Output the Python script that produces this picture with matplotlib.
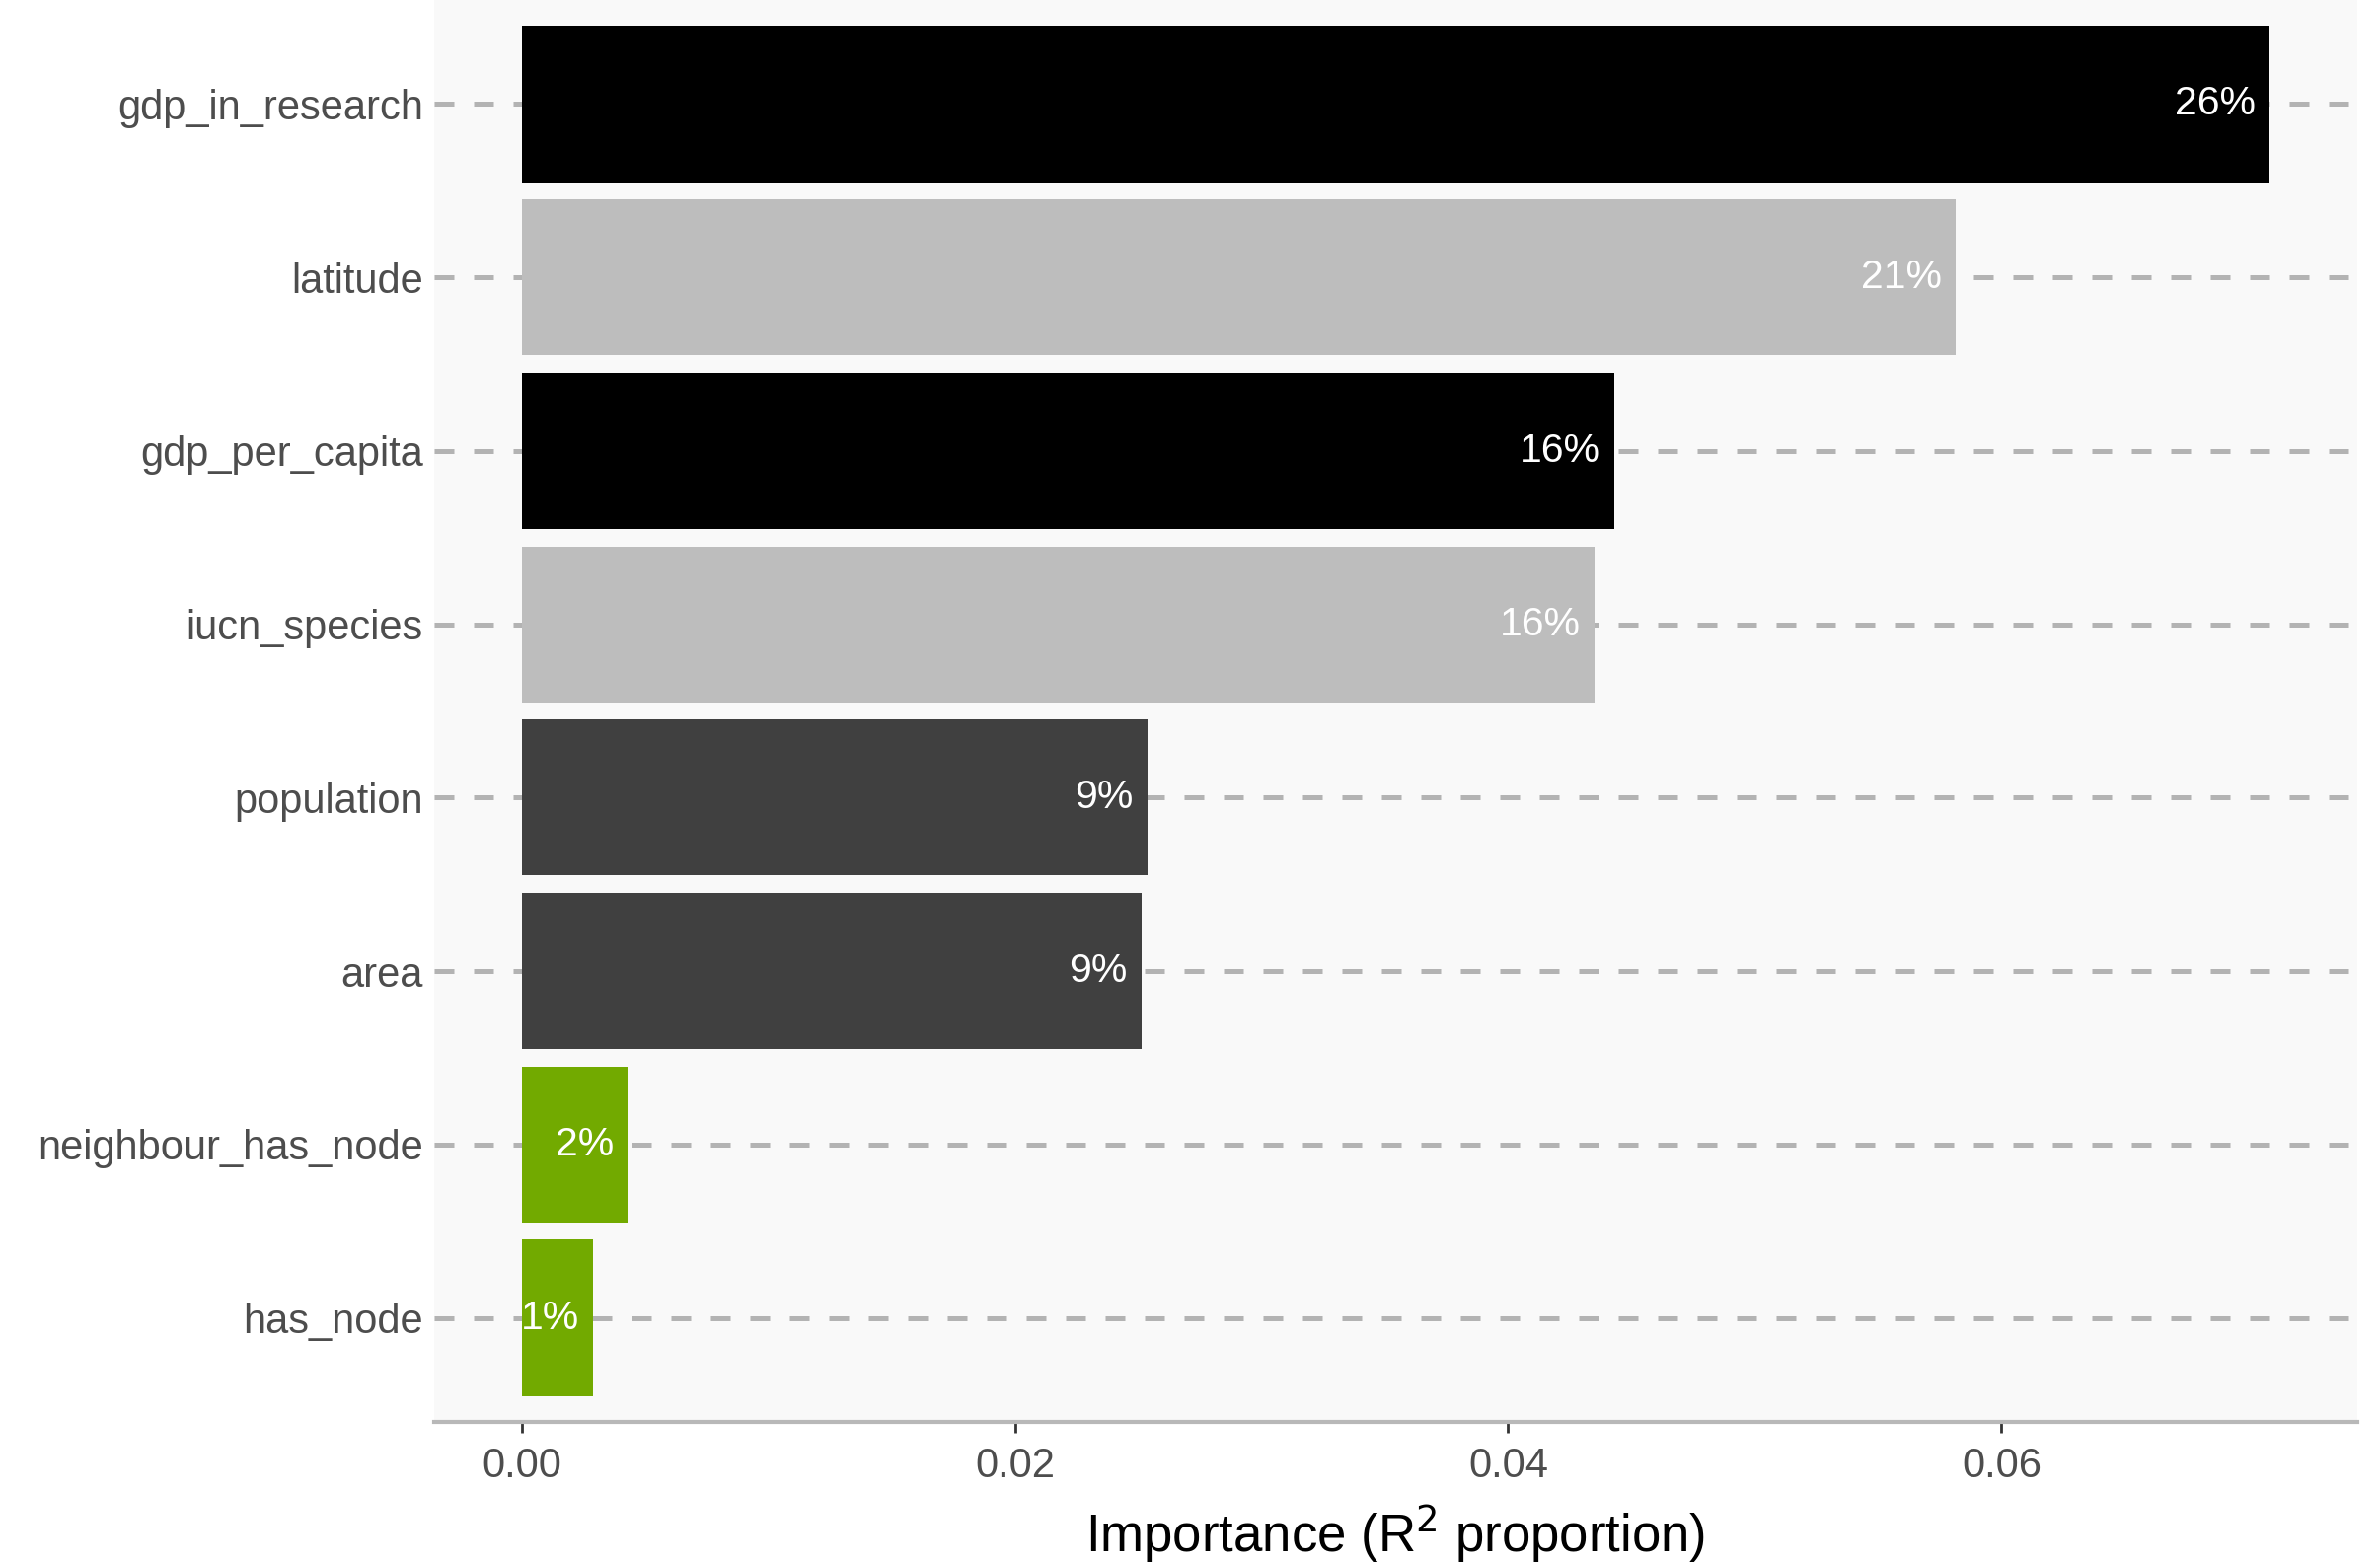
import matplotlib
matplotlib.use("Agg")
import matplotlib.pyplot as plt
import matplotlib.transforms as mtransforms
from matplotlib.ticker import FixedLocator, FormatStrFormatter
import numpy as np

# Relative importance of each predictor (R^2 proportion), top to bottom
variables = ["gdp_in_research", "latitude", "gdp_per_capita", "iucn_species",
             "population", "area", "neighbour_has_node", "has_node"]
importance = [0.07088, 0.05816, 0.04431, 0.04351, 0.02537, 0.02512, 0.00430, 0.00289]
groups = ["economy", "environment", "economy", "environment",
          "size", "size", "network", "network"]
x_ticks = [0.00, 0.02, 0.04, 0.06]

palette = {"economy": "#000000", "environment": "#bdbdbd",
           "size": "#404040", "network": "#72aa00"}

plt.rcParams["font.family"] = ["Liberation Sans", "DejaVu Sans"]

fig = plt.figure(figsize=(24.12, 15.85), dpi=100)
ax = fig.add_axes([440 / 2412, 144 / 1585, (2389 - 440) / 2412, 1441 / 1585])
ax.set_facecolor("#f9f9f9")

n = len(variables)
ypos = np.arange(n, 0, -1)
colors = [palette[g] for g in groups]
ax.barh(ypos, importance, height=0.9, color=colors, zorder=2)

# Share of total importance written inside each bar
total = sum(importance)
label_tf = mtransforms.offset_copy(ax.transData, fig=fig, x=-14, y=0, units="dots")
for y, v in zip(ypos, importance):
    ax.text(v, y, f"{round(100 * v / total):.0f}%", transform=label_tf,
            ha="right", va="center", color="white", fontsize=29.5, zorder=3)

xmax = max(importance)
ax.set_xlim(-0.05 * xmax, 1.05 * xmax)
ax.set_ylim(0.4, n + 0.6)

ax.yaxis.set_major_locator(FixedLocator(ypos))
ax.set_yticklabels(variables)
ax.xaxis.set_major_locator(FixedLocator(x_ticks))
ax.xaxis.set_major_formatter(FormatStrFormatter("%.2f"))

ax.grid(axis="y", color="#b3b3b3", linewidth=3.6, linestyle=(0, (4, 4)), zorder=1)
ax.set_axisbelow(True)

for side in ["top", "right", "left"]:
    ax.spines[side].set_visible(False)
ax.spines["bottom"].set_color("#b8b8b8")
ax.spines["bottom"].set_linewidth(3)

ax.tick_params(axis="y", length=0, pad=8, labelsize=30, labelcolor="#4d4d4d")
ax.tick_params(axis="x", length=8, width=2, color="#333333", pad=10,
               labelsize=30, labelcolor="#4d4d4d")

ax.set_xlabel("Importance (R$^2$ proportion)", fontsize=38, color="black", labelpad=12)

fig.savefig("out.png", dpi=100, facecolor="white")
